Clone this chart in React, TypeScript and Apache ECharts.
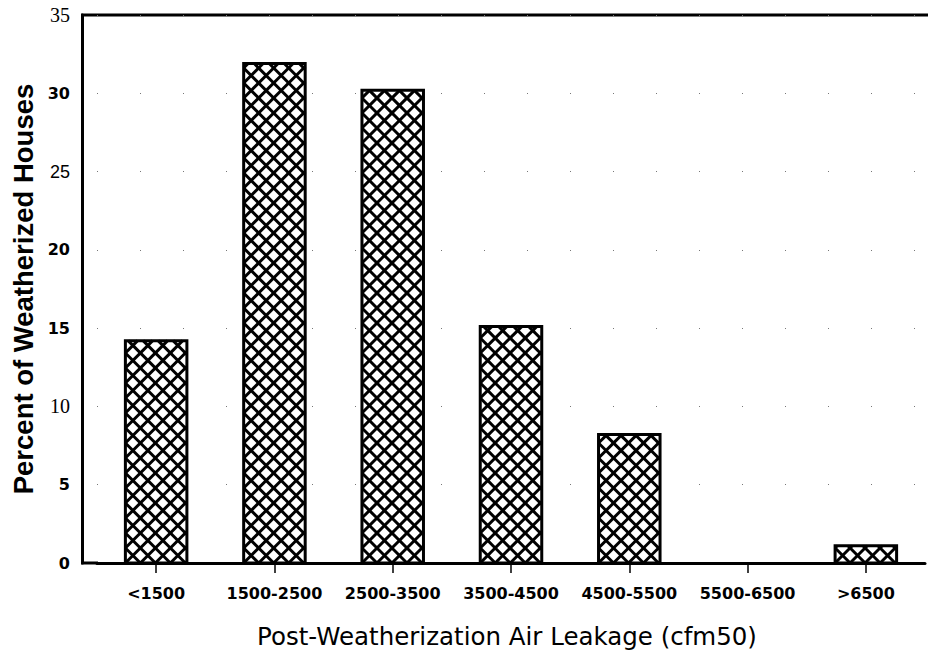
import React, { useEffect, useRef } from "react";
import * as echarts from "echarts";

const categories = ["<1500", "1500-2500", "2500-3500", "3500-4500", "4500-5500", "5500-6500", ">6500"];
const percentValues = [14.2, 31.9, 30.2, 15.1, 8.2, 0, 1.1];
const yTicks = [0, 5, 10, 15, 20, 25, 30, 35];
const xTitle = "Post-Weatherization Air Leakage (cfm50)";
const yTitle = "Percent of Weatherized Houses";

function hatchLines(x0: number, x1: number, y0: number, y1: number, s: number) {
  const segs: number[][] = [];
  const baseA = x0 + y1;
  const nA0 = Math.ceil((x0 + y0 - baseA) / s);
  const nA1 = Math.floor((x1 + y1 - baseA) / s);
  for (let n = nA0; n <= nA1; n++) {
    const k = baseA + n * s;
    const xa = Math.max(x0, k - y1);
    const xb = Math.min(x1, k - y0);
    if (xb - xa > 0.5) segs.push([xa, k - xa, xb, k - xb]);
  }
  const baseB = x0 - y1;
  const nB0 = Math.ceil((x0 - y1 - baseB) / s);
  const nB1 = Math.floor((x1 - y0 - baseB) / s);
  for (let n = nB0; n <= nB1; n++) {
    const k = baseB + n * s;
    const xa = Math.max(x0, k + y0);
    const xb = Math.min(x1, k + y1);
    if (xb - xa > 0.5) segs.push([xa, xa - k, xb, xb - k]);
  }
  return segs;
}

export default function App() {
  const ref = useRef<HTMLDivElement>(null);
  useEffect(() => {
    if (!ref.current) return;
    const chart = echarts.init(ref.current, null, { renderer: "svg" });
    const option: any = {
      animation: false,
      backgroundColor: "#ffffff",
      grid: { left: 97, right: 3, top: 15, bottom: 92 },
      xAxis: {
        type: "category",
        data: categories,
        boundaryGap: true,
        axisLine: { show: true, lineStyle: { color: "#000", width: 3 } },
        axisTick: { show: true, alignWithLabel: true, length: 10, lineStyle: { color: "#000", width: 1.5 } },
        axisLabel: {
          margin: 22,
          color: "#000",
          fontFamily: "DejaVu Sans",
          fontWeight: "bold",
          fontSize: 16,
          interval: 0,
        },
        splitLine: { show: false },
      },
      yAxis: {
        type: "value",
        min: yTicks[0],
        max: yTicks[yTicks.length - 1],
        interval: 5,
        offset: 15,
        axisLine: { show: true, lineStyle: { color: "#000", width: 3 } },
        axisTick: { show: false },
        axisLabel: {
          margin: 12,
          color: "#000",
          formatter: (v: number) => {
            if (v === 35 || v === 10) return "{s|" + v + "}";
            if (v === 25) return "{n|" + v + "}";
            return "{b|" + v + "}";
          },
          rich: {
            s: { fontFamily: "Liberation Serif", fontSize: 20, color: "#000" },
            n: { fontFamily: "Liberation Sans", fontSize: 18, color: "#000" },
            b: { fontFamily: "DejaVu Sans", fontWeight: "bold", fontSize: 16, color: "#000" },
          },
        },
        splitLine: { show: true, lineStyle: { color: "#777", width: 1, type: [1, 42] } },
      },
      series: [
        {
          type: "custom",
          data: percentValues.map((v, i) => [i, v]),
          encode: { x: 0, y: 1 },
          renderItem: (params: any, api: any) => {
            const idx = api.value(0);
            const v = api.value(1);
            const top = api.coord([idx, v]);
            const base = api.coord([idx, 0]);
            const band = api.size([1, 0])[0];
            const w = band * 0.52;
            const x0 = top[0] - w / 2;
            const x1 = top[0] + w / 2;
            const y0 = top[1];
            const y1 = base[1];
            if (y1 - y0 < 0.5) return { type: "group", children: [] };
            const children: any[] = [
              { type: "rect", shape: { x: x0, y: y0, width: w, height: y1 - y0 }, style: { fill: "#fff" } },
            ];
            hatchLines(x0, x1, y0, y1, 15).forEach((sg) => {
              children.push({
                type: "line",
                shape: { x1: sg[0], y1: sg[1], x2: sg[2], y2: sg[3] },
                style: { stroke: "#000", lineWidth: 3 },
              });
            });
            children.push({
              type: "rect",
              shape: { x: x0, y: y0, width: w, height: y1 - y0 },
              style: { fill: "none", stroke: "#000", lineWidth: 3 },
            });
            return { type: "group", children };
          },
        },
      ],
      graphic: [
        { type: "line", shape: { x1: 81, y1: 15, x2: 928, y2: 15 }, style: { stroke: "#000", lineWidth: 3 } },
        { type: "line", shape: { x1: 81, y1: 563, x2: 98, y2: 563 }, style: { stroke: "#000", lineWidth: 3 } },
        {
          type: "text",
          x: 507,
          y: 636,
          style: {
            text: xTitle,
            fontFamily: "DejaVu Sans",
            fontSize: 24.5,
            fill: "#000",
            align: "center",
            verticalAlign: "middle",
          },
        },
        {
          type: "text",
          x: 23,
          y: 289,
          rotation: Math.PI / 2,
          style: {
            text: yTitle,
            fontFamily: "Liberation Sans",
            fontWeight: "bold",
            fontSize: 27.5,
            fill: "#000",
            align: "center",
            verticalAlign: "middle",
          },
        },
      ],
    };
    chart.setOption(option);
    return () => chart.dispose();
  }, []);
  return <div ref={ref} style={{ position: "fixed", left: 0, top: 0, width: 928, height: 655 }} />;
}
